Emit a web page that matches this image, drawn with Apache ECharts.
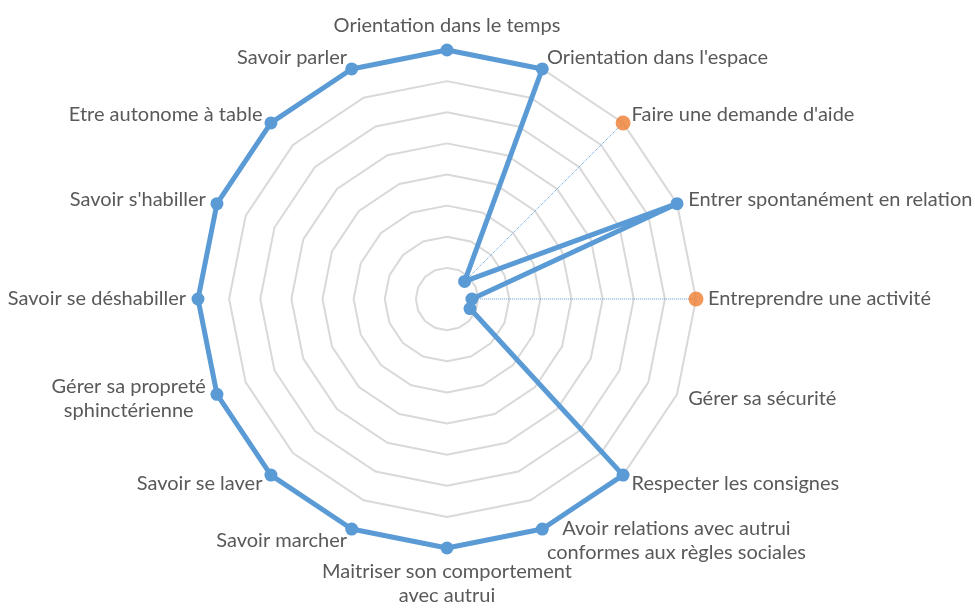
<!DOCTYPE html>
<html>
<head>
<meta charset="utf-8">
<script src="https://cdn.jsdelivr.net/npm/echarts@6/dist/echarts.min.js"></script>
<style>
html, body { margin: 0; padding: 0; background: #fff; }
#chart { width: 975px; height: 610px; }
</style>
</head>
<body>
<div id="chart"></div>
<script>
// axes, clockwise from the top
var categories = [
    'Orientation dans le temps',
    "Orientation dans l'espace",
    "Faire une demande d'aide",
    'Entrer spontanément en relation',
    'Entreprendre une activité',
    'Gérer sa sécurité',
    'Respecter les consignes',
    'Avoir relations avec autrui\nconformes aux règles sociales',
    'Maitriser son comportement\navec autrui',
    'Savoir marcher',
    'Savoir se laver',
    'Gérer sa propreté\nsphinctérienne',
    'Savoir se déshabiller',
    "Savoir s'habiller",
    'Etre autonome à table',
    'Savoir parler'
];
var blueValues = [8, 8, 0.8, 8, 0.8, 0.8, 8, 8, 8, 8, 8, 8, 8, 8, 8, 8];
var orangeValues = [null, null, 8, null, 8, null, null, null, null, null, null, null, null, null, null, null];
var axisMax = 8;

function chart() {
    var myChart = echarts.init(document.getElementById('chart'));
    var n = categories.length;
    var step = 360 / n;
    // radar goes counter-clockwise, so reverse everything after the first axis
    var order = categories.map(function (c, i) { return i === 0 ? 0 : n - i; });
    var indicators = order.map(function (i) { return { name: categories[i], min: 0, max: axisMax }; });
    var blueRadar = order.map(function (i) { return blueValues[i]; });

    var orangePoints = [];
    var dropSeries = [];
    orangeValues.forEach(function (v, i) {
        if (v === null) return;
        orangePoints.push([v, i * step]);
        dropSeries.push({
            type: 'line',
            coordinateSystem: 'polar',
            symbol: 'none',
            silent: true,
            z: 2,
            lineStyle: { color: '#5B9BD5', width: 1, type: 'dotted' },
            data: [[blueValues[i], i * step], [v, i * step]]
        });
    });

    var font = { color: '#595959', fontFamily: 'Lato', fontSize: 20, lineHeight: 24 };
    var options = {
        animation: false,
        backgroundColor: '#fff',
        radar: {
            center: [447, 299],
            radius: 249,
            startAngle: 90,
            shape: 'polygon',
            splitNumber: 8,
            indicator: indicators,
            axisNameGap: 12,
            axisName: Object.assign({
                formatter: function (name) {
                    return name.split('\n').map(function (s) { return '{c|' + s + '}'; }).join('\n');
                },
                rich: { c: Object.assign({ align: 'center' }, font) }
            }, font),
            axisLine: { show: false },
            axisTick: { show: false },
            axisLabel: { show: false },
            splitLine: { lineStyle: { color: '#d9d9d9', width: 2 } },
            splitArea: { show: false }
        },
        polar: { center: [447, 299], radius: 249 },
        angleAxis: {
            type: 'value', min: 0, max: 360, startAngle: 90, clockwise: true,
            show: false, axisLine: { show: false }, splitLine: { show: false }, axisLabel: { show: false }
        },
        radiusAxis: {
            min: 0, max: axisMax,
            show: false, axisLine: { show: false }, splitLine: { show: false }, axisLabel: { show: false }
        },
        series: [{
            type: 'radar',
            z: 3,
            symbol: 'circle',
            symbolSize: 13,
            lineStyle: { color: '#5B9BD5', width: 5 },
            itemStyle: { color: '#5B9BD5' },
            data: [{ value: blueRadar }]
        }].concat(dropSeries).concat([{
            type: 'scatter',
            coordinateSystem: 'polar',
            z: 4,
            symbolSize: 15,
            itemStyle: { color: '#ED7D31' },
            data: orangePoints
        }])
    };
    myChart.setOption(options);
}
chart();
</script>
</body>
</html>
